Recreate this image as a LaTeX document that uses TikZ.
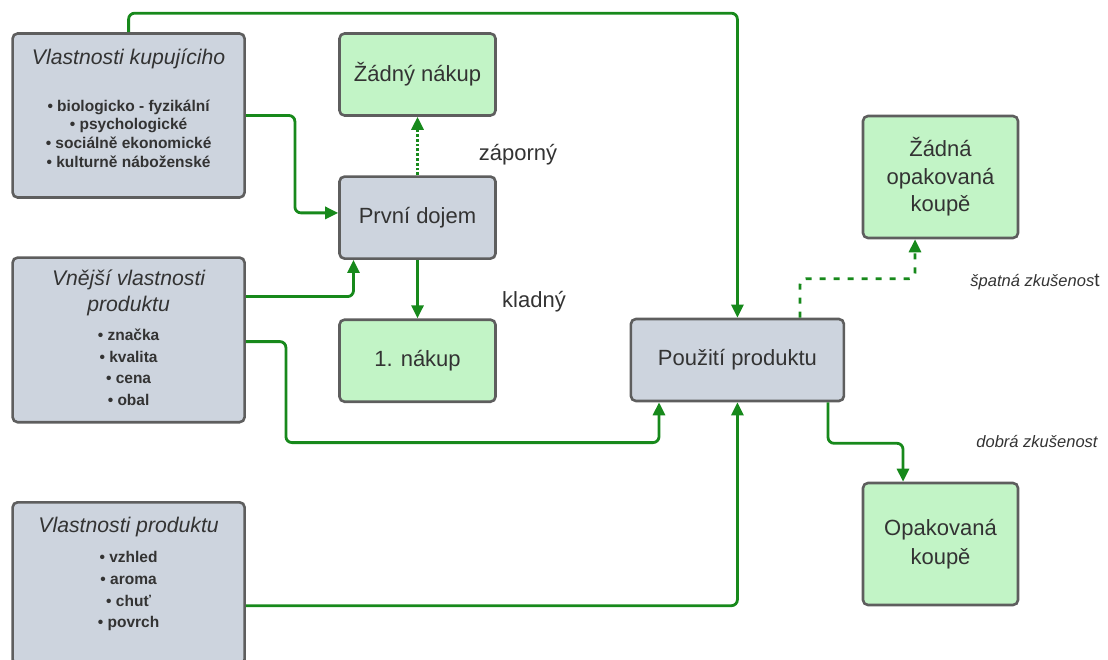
\documentclass[tikz,border=0pt]{standalone}
\usepackage{fontspec}
\setmainfont{Liberation Sans}
\usepackage{xcolor}
\usepackage{tikz}
\usetikzlibrary{arrows.meta, positioning}
\definecolor{factorfill}{HTML}{CDD4DE}
\definecolor{okfill}{HTML}{C2F4C6}
\definecolor{rim}{HTML}{5E5E5E}
\definecolor{flow}{HTML}{17891B}
\definecolor{ink}{HTML}{333333}
\tikzstyle{factor} = [rectangle, rounded corners=5pt, minimum width=232pt, line width=2.6pt, draw=rim, fill=factorfill]
\tikzstyle{factortext} = [inner sep=0pt, align=center, text=ink, font=\fontsize{15.5}{21.7}\selectfont\bfseries]
\tikzstyle{stage} = [rectangle, rounded corners=5pt, minimum width=156pt, minimum height=82pt, text centered, line width=2.6pt, draw=rim, fill=factorfill, text=ink, font=\fontsize{22}{26}\selectfont]
\tikzstyle{outcome} = [stage, fill=okfill]
\tikzstyle{caption} = [text=ink, font=\fontsize{22}{26}\selectfont]
\tikzstyle{remark} = [text=ink, font=\fontsize{16.5}{19}\selectfont\itshape]
\tikzstyle{arrow} = [line width=2.8pt, draw=flow, rounded corners=6pt, -{Triangle[length=13pt,width=12pt]}]
\newcommand{\boxtitle}[1]{{\mdseries\itshape\fontsize{21.2}{24}\selectfont #1}}
\begin{document}
\begin{tikzpicture}[x=1pt, y=-1pt]
    \useasboundingbox (0,0) rectangle (1108,660);
    % Factors
    \node[factor, minimum height=164pt] (kupujici) at (128.6,115.5) {};
    \node[factortext, font=\fontsize{15.5}{18.7}\selectfont\bfseries, below=16pt of kupujici.north] (kupujicitext) {\boxtitle{Vlastnosti kupujíciho}\\[28.3pt] • biologicko - fyzikální\\ • psychologické\\ • sociálně ekonomické\\ • kulturně náboženské};
    \node[factor, minimum height=164.6pt, below=57.5pt of kupujici] (vnejsi) {};
    \node[factortext, below=13.5pt of vnejsi.north] (vnejsitext) {\boxtitle{Vnější vlastnosti}\\[4.3pt] \boxtitle{produktu}\\[7pt] • značka\\ • kvalita\\ • cena\\ • obal};
    \node[factor, minimum height=162pt, below=77.5pt of vnejsi] (produkt) {};
    \node[factortext, below=16pt of produkt.north] (produkttext) {\boxtitle{Vlastnosti produktu}\\[8.6pt] • vzhled\\ • aroma\\ • chuť\\ • povrch};
    
    % First purchase
    \node[outcome] (zadnynakup) at (417.5,74.5) {Žádný nákup};
    \node[stage, below=58.5pt of zadnynakup] (dojem) {První dojem};
    \node[outcome, below=58.5pt of dojem] (nakup) {1. nákup};
    \node[caption] (zaporny) at (518,155) {záporný};
    \node[caption] (kladny) at (534,302) {kladný};
    
    % Use and repurchase
    \node[stage, minimum width=213pt] (pouziti) at (737.4,360) {Použití produktu};
    \node[outcome, minimum width=155pt, minimum height=122pt, align=center, font=\fontsize{22}{27.5}\selectfont] (zadnaopak) at (940.5,177) {Žádná\\opakovaná\\koupě};
    \node[outcome, minimum width=155pt, minimum height=122pt, align=center, font=\fontsize{22}{28.7}\selectfont] (opak) at (940.5,544) {Opakovaná\\koupě};
    \node[remark] (spatna) at (1035,282) {špatná zkušenos{\upshape\fontsize{19}{19}\selectfont t}};
    \node[remark] (dobra) at (1037,442) {dobrá zkušenost};
    
    % Connectors
    \draw[arrow] (kupujici.north) -- ++(0,-19) -| (pouziti.north);
    \draw[arrow] (kupujici.east) -- ++(49,0) |- ([yshift=4.7pt]dojem.west);
    \draw[arrow] ([yshift=43.3pt]vnejsi.east) -| ([xshift=-64pt]dojem.south);
    \draw[arrow] ([yshift=-1.7pt]vnejsi.east) -| ++(40,101) -| ([xshift=-78.4pt]pouziti.south);
    \draw[arrow] ([yshift=-22.4pt]produkt.east) -| (pouziti.south);
    \draw[arrow, dotted] (dojem.north) -- (zadnynakup.south);
    \draw[arrow] (dojem.south) -- (nakup.north);
    \draw[arrow, dash pattern=on 6pt off 8pt] ([xshift=62.6pt]pouziti.north) |- ++(115,-39) -- ([xshift=-25.5pt]zadnaopak.south);
    \draw[arrow] ([xshift=90.6pt]pouziti.south) |- ++(75,41) -- ([xshift=-37.5pt]opak.north);
    
\end{tikzpicture}
\end{document}
